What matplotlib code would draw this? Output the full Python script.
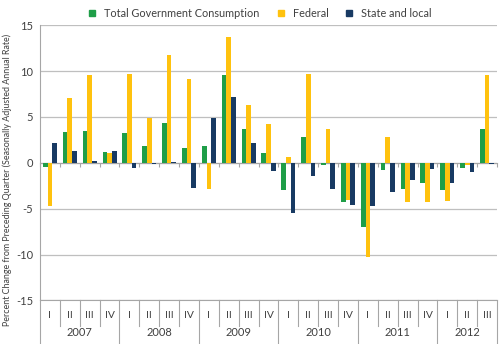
import numpy as np
import matplotlib.pyplot as plt
from matplotlib.patches import Patch
from matplotlib.transforms import blended_transform_factory

plt.rcParams['font.family'] = ['Lato', 'DejaVu Sans']
plt.rcParams['axes.unicode_minus'] = False

years = ['2007', '2008', '2009', '2010', '2011', '2012']
quarters = ['I', 'II', 'III', 'IV'] * 5 + ['I', 'II', 'III']

total = [-0.5, 3.4, 3.5, 1.2, 3.2, 1.8, 4.3, 1.6,
         1.8, 9.6, 3.7, 1.1, -3.0, 2.8, -0.2, -4.3,
         -7.0, -0.8, -2.9, -2.2, -3.0, -0.6, 3.7]
federal = [-4.7, 7.1, 9.6, 1.1, 9.7, 4.9, 11.7, 9.1,
           -2.9, 13.7, 6.3, 4.2, 0.6, 9.7, 3.7, -4.0,
           -10.3, 2.8, -4.3, -4.3, -4.2, -0.2, 9.6]
state_local = [2.2, 1.3, 0.2, 1.3, -0.6, -0.1, 0.1, -2.7,
               4.9, 7.2, 2.2, -0.9, -5.5, -1.4, -2.9, -4.6,
               -4.7, -3.2, -1.9, -0.7, -2.2, -1.0, -0.1]

labels = ['Total Government Consumption', 'Federal', 'State and local']
colors = ['#1f9e48', '#ffc20e', '#183a63']

fig = plt.figure(figsize=(5, 3.44), dpi=100)
ax = fig.add_axes([0.08, 0.1265, 0.914, 0.8005])

x = np.arange(len(quarters))
w = 0.235
for k, (vals, c) in enumerate(zip([total, federal, state_local], colors)):
    ax.bar(x + (k - 1) * w, vals, w, color=c, zorder=3)

ax.set_xlim(-0.5, len(quarters) - 0.5)
ax.set_ylim(-15, 15)
ax.set_yticks([-15, -10, -5, 0, 5, 10, 15])
ax.yaxis.grid(True, color='#bfbfbf', linewidth=0.9, zorder=0)
ax.tick_params(axis='y', length=0, labelsize=8, colors='#404040', pad=5)

for s in ['top', 'right']:
    ax.spines[s].set_visible(False)
ax.spines['left'].set_color('#a6a6a6')
ax.spines['left'].set_bounds(-15, 15)
ax.spines['bottom'].set_position(('data', 0))
ax.spines['bottom'].set_color('#a6a6a6')
ax.set_xticks(np.arange(len(quarters) + 1) - 0.5)
ax.set_xticklabels([])
ax.tick_params(axis='x', length=3, color='#a6a6a6', direction='out')

ax.set_ylabel('Percent Change from Preceding Quarter (Seasonally Adjusted Annual Rate)',
              fontsize=6.4, color='#404040')
ax.yaxis.set_label_coords(-0.061, 0.437)

# multi-level category axis
tr = blended_transform_factory(ax.transData, ax.transAxes)
for i, q in enumerate(quarters):
    ax.text(i, -0.056, q, transform=tr, ha='center', va='center',
            fontsize=7.5, color='#404040', clip_on=False)
for i in range(len(quarters) + 1):
    lo = -0.158 if i % 4 == 0 or i == len(quarters) else -0.093
    ax.plot([i - 0.5, i - 0.5], [0, lo], transform=tr, color='#a6a6a6',
            linewidth=0.8, clip_on=False)
ax.plot([-0.5, len(quarters) - 0.5], [0, 0], transform=tr, color='#a6a6a6',
        linewidth=0.8, clip_on=False)
for j, y in enumerate(years):
    start = j * 4
    end = min(start + 4, len(quarters))
    ax.text((start + end - 1) / 2, -0.118, y, transform=tr, ha='center',
            va='center', fontsize=8, color='#404040', clip_on=False)

handles = [Patch(color=c) for c in colors]
fig.legend(handles, labels, loc='upper center', bbox_to_anchor=(0.521, 1.005),
           ncol=3, frameon=False, fontsize=7.8, handlelength=0.55,
           handleheight=0.55, columnspacing=1.67, handletextpad=0.83,
           labelcolor='#404040')

fig.savefig('out.png', dpi=100)
